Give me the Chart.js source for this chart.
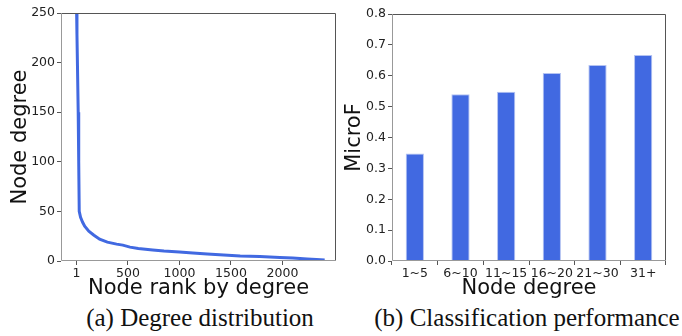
<!DOCTYPE html>
<html lang="en">
<head>
  <meta charset="UTF-8" />
  <title>Degree distribution and classification performance</title>
  <script src="https://cdn.jsdelivr.net/npm/chart.js"></script>
  <style>
    html, body {
      margin: 0;
      padding: 0;
      background: #ffffff;
      width: 682px;
      height: 336px;
      overflow: hidden;
    }
    .panel {
      position: absolute;
      top: 0;
      height: 302px;
    }
    #panelA { left: 0; width: 340px; }
    #panelB { left: 340px; width: 342px; }
    .caption {
      position: absolute;
      top: 304px;
      font-family: 'Liberation Serif', serif;
      font-size: 25px;
      color: #111;
      white-space: nowrap;
      transform: translateX(-50%);
    }
  </style>
</head>
<body>

<div class="panel" id="panelA"><canvas id="degreeChart" width="340" height="302"></canvas></div>
<div class="panel" id="panelB"><canvas id="microfChart" width="342" height="302"></canvas></div>

<div class="caption" style="left:200px">(a) Degree distribution</div>
<div class="caption" style="left:527px">(b) Classification performance</div>

<script>
  // (a) node degree by rank
  const rankValues = [1, 5, 10, 17, 22, 27, 40, 60, 80, 120, 170, 225, 300, 390, 450, 520, 600, 740, 850, 1000,
                      1130, 1270, 1430, 1590, 1780, 1975, 2100, 2240, 2330, 2410];
  const degreeValues = [256, 228, 196, 150, 100, 50, 44, 39, 35, 30, 26, 22, 19, 17, 16, 14, 12.5, 11, 10, 9,
                        8, 7, 6, 5, 4.5, 3.5, 3, 2, 1.5, 1];
  const rankTicks = [1, 500, 1000, 1500, 2000];

  // (b) MicroF per degree group
  const degreeGroups = ['1~5', '6~10', '11~15', '16~20', '21~30', '31+'];
  const microF = [0.348, 0.540, 0.548, 0.609, 0.635, 0.667];

  const tickFont = { family: 'DejaVu Sans', size: 12.5 };
  const titleFont = { family: 'DejaVu Sans', size: 21 };
  const blue = '#4169e1';

  // matplotlib-like box around the plot area
  const frame = {
    id: 'frame',
    afterDraw(chart) {
      const { ctx, chartArea: a } = chart;
      ctx.save();
      ctx.lineWidth = 1;
      ctx.strokeStyle = '#555';
      ctx.beginPath();
      ctx.moveTo(a.left, a.top + 0.5);
      ctx.lineTo(a.right - 0.5, a.top + 0.5);
      ctx.lineTo(a.right - 0.5, a.bottom);
      ctx.stroke();
      ctx.strokeStyle = '#999';
      ctx.beginPath();
      ctx.moveTo(a.left + 0.5, a.top);
      ctx.lineTo(a.left + 0.5, a.bottom - 0.5);
      ctx.lineTo(a.right, a.bottom - 0.5);
      ctx.stroke();
      ctx.restore();
    }
  };

  function tickGrid() {
    return { drawOnChartArea: false, drawTicks: true, tickLength: 4, tickColor: '#555' };
  }

  new Chart(document.getElementById('degreeChart'), {
    type: 'line',
    data: {
      datasets: [{
        data: rankValues.map((r, i) => ({ x: r, y: degreeValues[i] })),
        borderColor: blue,
        borderWidth: 3,
        pointRadius: 0,
        tension: 0,
        fill: false
      }]
    },
    options: {
      responsive: false,
      animation: false,
      layout: { padding: { top: 13, right: 4, left: 0, bottom: 0 } },
      plugins: { legend: { display: false }, tooltip: { enabled: false } },
      scales: {
        x: {
          type: 'linear',
          min: -150,
          max: 2520,
          afterBuildTicks: s => { s.ticks = rankTicks.map(v => ({ value: v })); },
          afterFit: s => { s.height = 41; },
          grid: tickGrid(),
          border: { display: false },
          ticks: { font: tickFont, color: '#222', padding: 1, maxRotation: 0,
                   callback: v => String(v) },
          title: { display: true, text: 'Node rank by degree', font: titleFont, color: '#111',
                   padding: { top: 0, bottom: 1 } }
        },
        y: {
          min: 0,
          max: 250,
          afterFit: s => { s.width = 61; },
          grid: tickGrid(),
          border: { display: false },
          ticks: { stepSize: 50, font: tickFont, color: '#222', padding: 2 },
          title: { display: true, text: 'Node degree', font: titleFont, color: '#111',
                   padding: { top: 8, bottom: 0 } }
        }
      }
    },
    plugins: [frame]
  });

  new Chart(document.getElementById('microfChart'), {
    type: 'bar',
    data: {
      labels: degreeGroups,
      datasets: [{
        data: microF,
        backgroundColor: blue,
        borderColor: '#b4c3f2',
        borderWidth: 1,
        barPercentage: 0.4,
        categoryPercentage: 1
      }]
    },
    options: {
      responsive: false,
      animation: false,
      layout: { padding: { top: 14, right: 16, left: 0, bottom: 0 } },
      plugins: { legend: { display: false }, tooltip: { enabled: false } },
      scales: {
        x: {
          afterFit: s => { s.height = 41; },
          grid: tickGrid(),
          border: { display: false },
          ticks: { font: tickFont, color: '#222', padding: 1, maxRotation: 0, autoSkip: false },
          title: { display: true, text: 'Node degree', font: titleFont, color: '#111',
                   padding: { top: 0, bottom: 1 } }
        },
        y: {
          min: 0,
          max: 0.8,
          afterFit: s => { s.width = 52; },
          grid: tickGrid(),
          border: { display: false },
          ticks: { stepSize: 0.1, font: tickFont, color: '#222', padding: 2,
                   callback: v => v.toFixed(1) },
          title: { display: true, text: 'MicroF', font: titleFont, color: '#111',
                   padding: { top: 2, bottom: 0 } }
        }
      }
    },
    plugins: [frame]
  });
</script>

</body>
</html>
